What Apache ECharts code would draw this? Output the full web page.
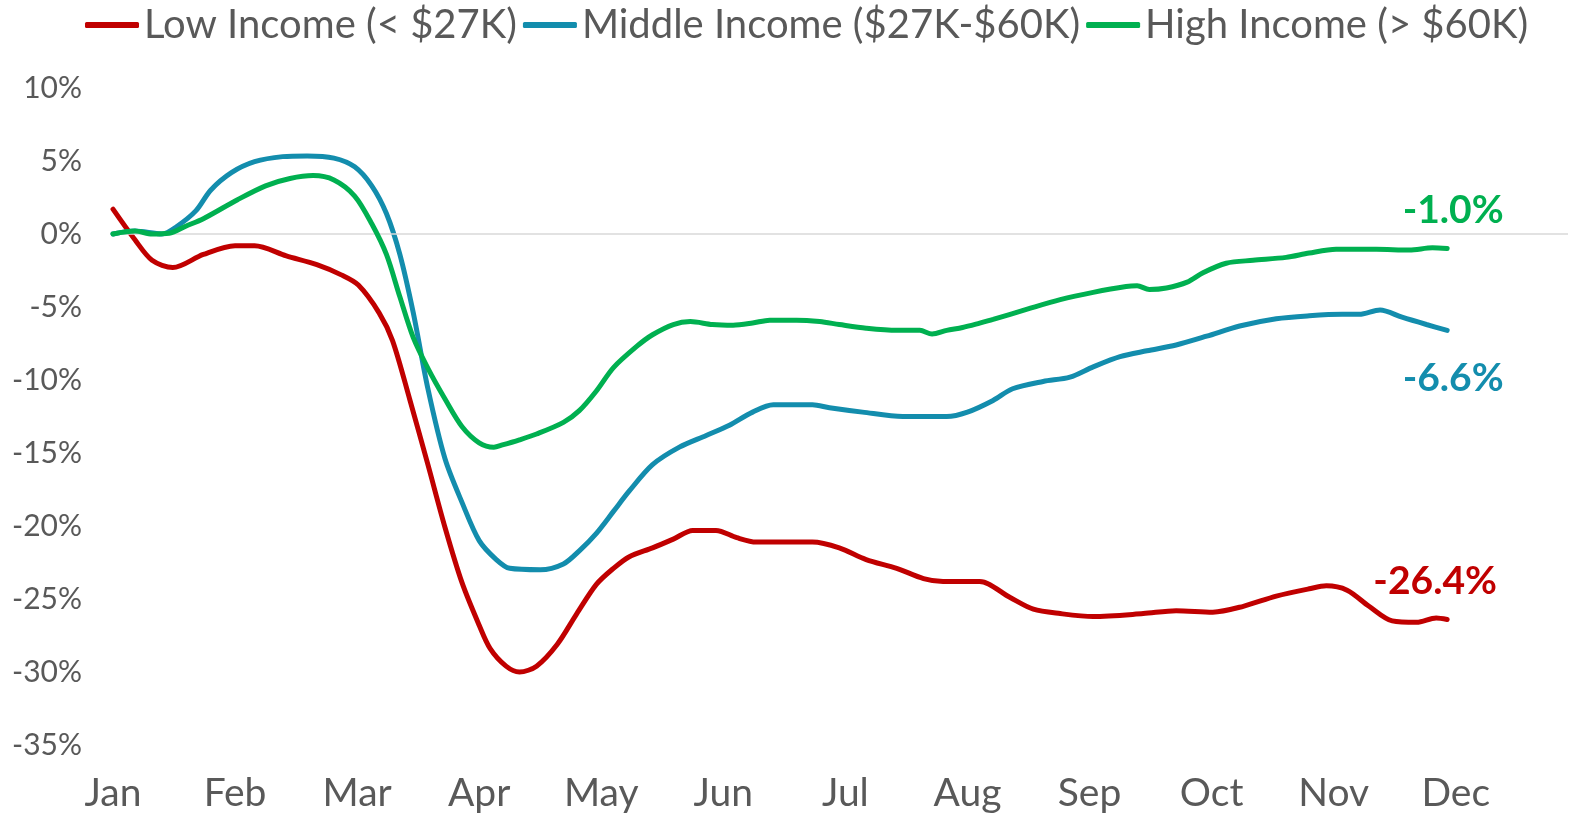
<!DOCTYPE html>
<html>
<head>
<meta charset="utf-8">
<script src="https://cdn.jsdelivr.net/npm/echarts@6/dist/echarts.min.js"></script>
<style>
  html, body { margin: 0; padding: 0; background: #fff; }
  #chart { width: 1571px; height: 815px; }
</style>
</head>
<body>
<div id="chart"></div>
<script>
// x = months since Jan (0 = Jan, 11 = Dec), y = change in %
const months = ['Jan', 'Feb', 'Mar', 'Apr', 'May', 'Jun', 'Jul', 'Aug', 'Sep', 'Oct', 'Nov', 'Dec'];
const yTicks = [-35, -30, -25, -20, -15, -10, -5, 0, 5, 10];

const lowIncome = [
  [0, 1.7], [0.18, -0.4], [0.32, -1.8], [0.49, -2.3], [0.74, -1.4], [1.0, -0.8], [1.16, -0.8],
  [1.42, -1.5], [1.67, -2.1], [1.87, -2.8], [2.01, -3.5], [2.18, -5.4], [2.29, -7.3], [2.43, -11.3],
  [2.58, -15.8], [2.72, -20.1], [2.86, -23.9], [3.0, -26.8], [3.09, -28.4], [3.22, -29.6], [3.33, -30.0],
  [3.47, -29.6], [3.64, -28.1], [3.80, -26.0], [3.96, -24.0], [4.10, -22.9], [4.23, -22.1], [4.42, -21.5],
  [4.59, -20.9], [4.75, -20.3], [4.94, -20.3], [5.11, -20.8], [5.27, -21.1], [5.50, -21.1], [5.73, -21.1],
  [5.95, -21.5], [6.17, -22.3], [6.42, -22.9], [6.64, -23.6], [6.80, -23.8], [7.10, -23.8], [7.35, -24.9],
  [7.54, -25.7], [7.76, -26.0], [8.03, -26.2], [8.44, -26.0], [8.71, -25.8], [9.01, -25.9], [9.26, -25.5],
  [9.53, -24.8], [9.80, -24.3], [9.94, -24.1], [10.11, -24.4], [10.29, -25.5], [10.48, -26.5], [10.68, -26.6],
  [10.84, -26.3], [10.93, -26.4]
];
const middleIncome = [
  [0, 0], [0.18, 0.2], [0.40, 0], [0.52, 0.5], [0.68, 1.6], [0.80, 3.0], [0.97, 4.2], [1.16, 4.95],
  [1.39, 5.3], [1.59, 5.35], [1.81, 5.2], [1.98, 4.6], [2.12, 3.3], [2.24, 1.4], [2.35, -1.4], [2.46, -5.4],
  [2.58, -10.6], [2.72, -15.4], [2.86, -18.4], [3.0, -21.0], [3.14, -22.3], [3.25, -22.9], [3.50, -23.0],
  [3.69, -22.6], [3.82, -21.7], [3.96, -20.5], [4.10, -19.0], [4.23, -17.6], [4.42, -15.8], [4.64, -14.6],
  [4.86, -13.8], [5.05, -13.1], [5.24, -12.2], [5.41, -11.7], [5.73, -11.7], [5.87, -11.9], [6.14, -12.2],
  [6.47, -12.5], [6.83, -12.5], [7.0, -12.2], [7.21, -11.4], [7.37, -10.6], [7.62, -10.1], [7.84, -9.8],
  [8.03, -9.1], [8.25, -8.4], [8.47, -8.0], [8.71, -7.6], [8.96, -7.0], [9.23, -6.3], [9.53, -5.8],
  [9.80, -5.6], [10.07, -5.5], [10.21, -5.5], [10.38, -5.2], [10.56, -5.7], [10.76, -6.2], [10.93, -6.6]
];
const highIncome = [
  [0, 0], [0.18, 0.2], [0.32, 0], [0.46, 0.05], [0.60, 0.55], [0.74, 1.05], [1.02, 2.35], [1.25, 3.3],
  [1.45, 3.8], [1.64, 4.0], [1.81, 3.7], [1.98, 2.6], [2.12, 0.7], [2.24, -1.4], [2.35, -4.3], [2.46, -7.1],
  [2.58, -9.2], [2.72, -11.3], [2.86, -13.2], [3.0, -14.3], [3.12, -14.6], [3.19, -14.45], [3.33, -14.1],
  [3.47, -13.7], [3.69, -12.9], [3.82, -12.1], [3.96, -10.75], [4.10, -9.15], [4.29, -7.7], [4.42, -6.9],
  [4.59, -6.2], [4.73, -6.0], [4.91, -6.2], [5.08, -6.25], [5.24, -6.1], [5.38, -5.9], [5.60, -5.9],
  [5.79, -6.0], [5.95, -6.2], [6.17, -6.45], [6.42, -6.6], [6.61, -6.6], [6.71, -6.85], [6.83, -6.6],
  [6.96, -6.4], [7.10, -6.1], [7.21, -5.85], [7.49, -5.15], [7.76, -4.5], [8.03, -4.0], [8.30, -3.6],
  [8.39, -3.55], [8.49, -3.8], [8.63, -3.7], [8.80, -3.3], [8.93, -2.65], [9.12, -2.0], [9.34, -1.8],
  [9.61, -1.6], [9.80, -1.3], [10.02, -1.05], [10.35, -1.05], [10.62, -1.1], [10.81, -0.95], [10.93, -1.0]
];

const seriesNames = ['Low Income (< $27K)', 'Middle Income ($27K-$60K)', 'High Income (> $60K)'];
const seriesColors = ['#C00000', '#138DAD', '#00B050'];
const endOffsets = [[-12, -38], [6, 48], [6, -38]];

const fontFamily = 'Lato, "Open Sans", sans-serif';
const textGrey = '#595959';

const chart = echarts.init(document.getElementById('chart'));

const makeSeries = (idx, data) => ({
  name: seriesNames[idx],
  type: 'line',
  data: data,
  smooth: 0.3,
  showSymbol: false,
  symbol: 'none',
  lineStyle: { width: 5, color: seriesColors[idx], cap: 'round' },
  itemStyle: { color: seriesColors[idx] },
  endLabel: {
    show: true,
    formatter: (p) => p.value[1].toFixed(1) + '%',
    color: seriesColors[idx],
    fontFamily: fontFamily,
    fontWeight: 'bold',
    fontSize: 39,
    align: 'center',
    verticalAlign: 'middle',
    distance: 0,
    offset: endOffsets[idx],
  },
  z: 3 + idx,
});

const lowSeries = makeSeries(0, lowIncome);
// zero baseline
lowSeries.markLine = {
  silent: true,
  symbol: 'none',
  label: { show: false },
  lineStyle: { color: '#D9D9D9', width: 1.5, type: 'solid' },
  data: [{ yAxis: 0 }],
};

const option = {
  animation: false,
  legend: {
    top: 0,
    left: 80,
    itemWidth: 54,
    itemHeight: 6,
    itemGap: 6,
    icon: 'roundRect',
    textStyle: { fontFamily: fontFamily, fontSize: 40, color: textGrey },
    data: seriesNames,
  },
  grid: { left: 113, right: 3, top: 88, bottom: 70, containLabel: false },
  xAxis: {
    type: 'value',
    min: 0,
    max: 11.92,
    interval: 1,
    axisLine: { show: false },
    axisTick: { show: false },
    splitLine: { show: false },
    axisLabel: {
      color: textGrey,
      fontFamily: fontFamily,
      fontSize: 39,
      margin: 29,
      showMaxLabel: false,
      formatter: (v) => months[Math.round(v)] !== undefined && Math.abs(v - Math.round(v)) < 1e-6 ? months[Math.round(v)] : '',
    },
  },
  yAxis: {
    type: 'value',
    min: yTicks[0],
    max: yTicks[yTicks.length - 1],
    interval: 5,
    axisLine: { show: false },
    axisTick: { show: false },
    splitLine: { show: false },
    axisLabel: {
      color: textGrey,
      fontFamily: fontFamily,
      fontSize: 30,
      margin: 31,
      formatter: (v) => v + '%',
    },
  },
  series: [lowSeries, makeSeries(1, middleIncome), makeSeries(2, highIncome)],
};

chart.setOption(option);
</script>
</body>
</html>
